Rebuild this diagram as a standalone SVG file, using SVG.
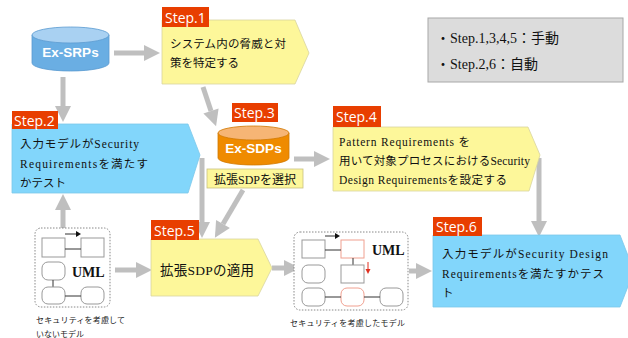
<svg xmlns="http://www.w3.org/2000/svg" width="628" height="338" viewBox="0 0 628 338">
<defs>
<marker id="ah" markerUnits="userSpaceOnUse" markerWidth="16" markerHeight="16" refX="0" refY="8" orient="auto" overflow="visible">
<path d="M0,0 L16,8 L0,16 z" fill="#bfbfbf"/>
</marker>
<marker id="sa" markerUnits="userSpaceOnUse" markerWidth="6" markerHeight="6" refX="0" refY="3" orient="auto" overflow="visible">
<path d="M0,0 L5,3 L0,6 z" fill="#111"/>
</marker>
<marker id="ra" markerUnits="userSpaceOnUse" markerWidth="6" markerHeight="6" refX="0" refY="2.5" orient="auto" overflow="visible">
<path d="M0,0 L5,2.5 L0,5 z" fill="#e03020"/>
</marker>
</defs>
<style>
.step{fill:#e83e00}
.stxt{font-family:"Open Sans","Noto Sans",sans-serif;font-size:14px;fill:#fff}
.yel{fill:#fdf79a;stroke:#d8d4a0;stroke-width:0.8}
.blu{fill:#82d6fb;stroke:#7cc8ea;stroke-width:0.8}
.jt{font-family:"Liberation Serif","Noto Sans CJK JP",serif;font-size:11.5px;fill:#111}
.cyl{font-family:"Liberation Sans",Arial,sans-serif;font-size:13.5px;font-weight:bold;fill:#fff}
.arr{stroke:#bfbfbf;stroke-width:5;fill:none;marker-end:url(#ah)}
.box{fill:#fff;stroke:#999;stroke-width:1}
.rbox{fill:#fff;stroke:#f0a090;stroke-width:1}
.ln{stroke:#333;stroke-width:1}
.dot{fill:#fff;stroke:#888;stroke-width:1;stroke-dasharray:1.5,1.5}
.sm{font-family:"Liberation Serif","Noto Sans CJK JP",serif;font-size:8px;fill:#222}
.uml{font-family:"Liberation Serif","Noto Sans CJK JP",serif;font-size:14px;font-weight:bold;fill:#111}
</style>

<g id="connectors">
<line class="arr" x1="114" y1="53" x2="144" y2="53"/>
<line class="arr" x1="63" y1="77" x2="63" y2="106"/>
<line class="arr" x1="203" y1="87" x2="211" y2="111"/>
<line class="arr" x1="294" y1="159" x2="314" y2="159"/>
<line class="arr" x1="63" y1="228" x2="63" y2="210"/>
<line class="arr" x1="202" y1="158" x2="202" y2="222"/>
<line class="arr" x1="243" y1="190" x2="223" y2="224"/>
<line class="arr" x1="115" y1="270" x2="136" y2="270"/>
<line class="arr" x1="272" y1="268" x2="284" y2="268"/>
<line class="arr" x1="409" y1="271" x2="416" y2="271"/>
<line class="arr" x1="539" y1="158" x2="539" y2="221"/>
</g>

<g id="legend">
<rect x="428" y="18" width="195" height="64" fill="#dcdcdc" stroke="#a8a8a8" stroke-width="1"/>
<text x="436" y="43" class="jt" style="font-size:14px">・Step.1,3,4,5：手動</text>
<text x="436" y="69" class="jt" style="font-size:14px">・Step.2,6：自動</text>
</g>

<g id="ex-srps">
<path d="M32,35 L32,63 A38.5,8 0 0 0 109,63 L109,35 Z" fill="#6aaee3" stroke="#5a9ad0" stroke-width="0.8"/>
<ellipse cx="70.5" cy="35" rx="38.5" ry="8" fill="#a9d1f2" stroke="#5a9ad0" stroke-width="0.8"/>
<text x="70.5" y="57" class="cyl" text-anchor="middle">Ex-SRPs</text>
</g>

<g id="step1">
<polygon class="yel" points="162,20 295,20 309,53 295,84 162,84"/>
<rect class="step" x="162" y="7" width="47" height="20"/>
<text x="165" y="23" class="stxt">Step.1</text>
<text x="170" y="48" class="jt" textLength="116">システム内の脅威と対</text>
<text x="170" y="67" class="jt">策を特定する</text>
</g>

<g id="step2">
<polygon class="blu" points="12,124 188,124 200,155 188,193 12,193"/>
<rect class="step" x="12" y="111" width="46" height="18"/>
<text x="14" y="126" class="stxt">Step.2</text>
<text x="20" y="148" class="jt" textLength="119">入力モデルがSecurity</text>
<text x="20" y="168" class="jt" textLength="128">Requirementsを満たす</text>
<text x="20" y="187" class="jt">かテスト</text>
</g>

<g id="step3">
<rect class="step" x="232" y="103" width="46" height="19"/>
<text x="234" y="118" class="stxt">Step.3</text>
<path d="M218,133 L218,158 A35.5,7 0 0 0 289,158 L289,133 Z" fill="#ef8b00" stroke="#d07800" stroke-width="0.8"/>
<ellipse cx="253.5" cy="133" rx="35.5" ry="7" fill="#f6b575" stroke="#d07800" stroke-width="0.8"/>
<text x="253.5" y="153" class="cyl" text-anchor="middle">Ex-SDPs</text>
<rect x="207" y="169" width="96" height="19" fill="#fdf79a" stroke="#c8c080" stroke-width="0.8"/>
<text x="255" y="184" class="jt" text-anchor="middle" style="font-size:12px">拡張SDPを選択</text>
</g>

<g id="step4">
<polygon class="yel" points="333,127 528,127 540,155 529,191 333,191"/>
<rect class="step" x="333" y="106" width="48" height="21"/>
<text x="336" y="122" class="stxt">Step.4</text>
<text x="339" y="146" class="jt" textLength="131">Pattern Requirements を</text>
<text x="339" y="165" class="jt" textLength="191">用いて対象プロセスにおけるSecurity</text>
<text x="339" y="184" class="jt" textLength="168">Design Requirementsを設定する</text>
</g>

<g id="step5">
<polygon class="yel" points="151,239 258,239 272,268 258,296 151,296"/>
<rect class="step" x="151" y="220" width="48" height="20"/>
<text x="154" y="236" class="stxt">Step.5</text>
<text x="160" y="275" class="jt" style="font-size:13.5px" textLength="94">拡張SDPの適用</text>
</g>

<g id="step6">
<polygon class="blu" points="433,235 620,235 634,271 620,307 433,307"/>
<rect class="step" x="433" y="217" width="49" height="19"/>
<text x="436" y="232" class="stxt">Step.6</text>
<text x="442" y="258" class="jt" textLength="166">入力モデルがSecurity Design</text>
<text x="442" y="278" class="jt" textLength="162">Requirementsを満たすかテス</text>
<text x="442" y="297" class="jt">ト</text>
</g>

<g id="uml1">
<rect class="dot" x="35" y="228" width="75" height="79" rx="6"/>
<line x1="65" y1="234" x2="76" y2="234" class="ln" marker-end="url(#sa)"/>
<rect class="box" x="42" y="238" width="23" height="19"/>
<rect class="box" x="81" y="238" width="23" height="19"/>
<line class="ln" x1="65" y1="249" x2="81" y2="249"/>
<rect class="box" x="42" y="262" width="23" height="18" rx="6"/>
<text x="72" y="277" class="uml">UML</text>
<line class="ln" x1="53" y1="280" x2="53" y2="287"/>
<rect class="box" x="42" y="287" width="23" height="17" rx="6"/>
<rect class="box" x="81" y="287" width="23" height="17" rx="6"/>
<line class="ln" x1="65" y1="296" x2="81" y2="296"/>
<text x="36" y="323" class="sm" textLength="89">セキュリティを考慮して</text>
<text x="36" y="337" class="sm">いないモデル</text>
</g>

<g id="uml2">
<rect class="dot" x="294" y="232" width="114" height="78" rx="6"/>
<line x1="325" y1="236" x2="335" y2="236" class="ln" marker-end="url(#sa)"/>
<rect class="box" x="302" y="240" width="23" height="18"/>
<rect class="rbox" x="341" y="240" width="23" height="18"/>
<line class="ln" x1="325" y1="250" x2="341" y2="250"/>
<line class="ln" x1="353" y1="258" x2="353" y2="265"/>
<rect class="box" x="341" y="265" width="23" height="18"/>
<line x1="368" y1="262" x2="368" y2="269" stroke="#e03020" stroke-width="1" marker-end="url(#ra)"/>
<text x="372" y="255" class="uml">UML</text>
<rect class="box" x="302" y="265" width="23" height="18" rx="6"/>
<rect class="box" x="302" y="288" width="23" height="18" rx="6"/>
<rect class="rbox" x="341" y="288" width="23" height="18" rx="6"/>
<rect class="box" x="380" y="288" width="23" height="18" rx="6"/>
<line class="ln" x1="325" y1="297" x2="341" y2="297"/>
<line class="ln" x1="364" y1="297" x2="380" y2="297"/>
<text x="290" y="326" class="sm" textLength="115">セキュリティを考慮したモデル</text>
</g>
</svg>
